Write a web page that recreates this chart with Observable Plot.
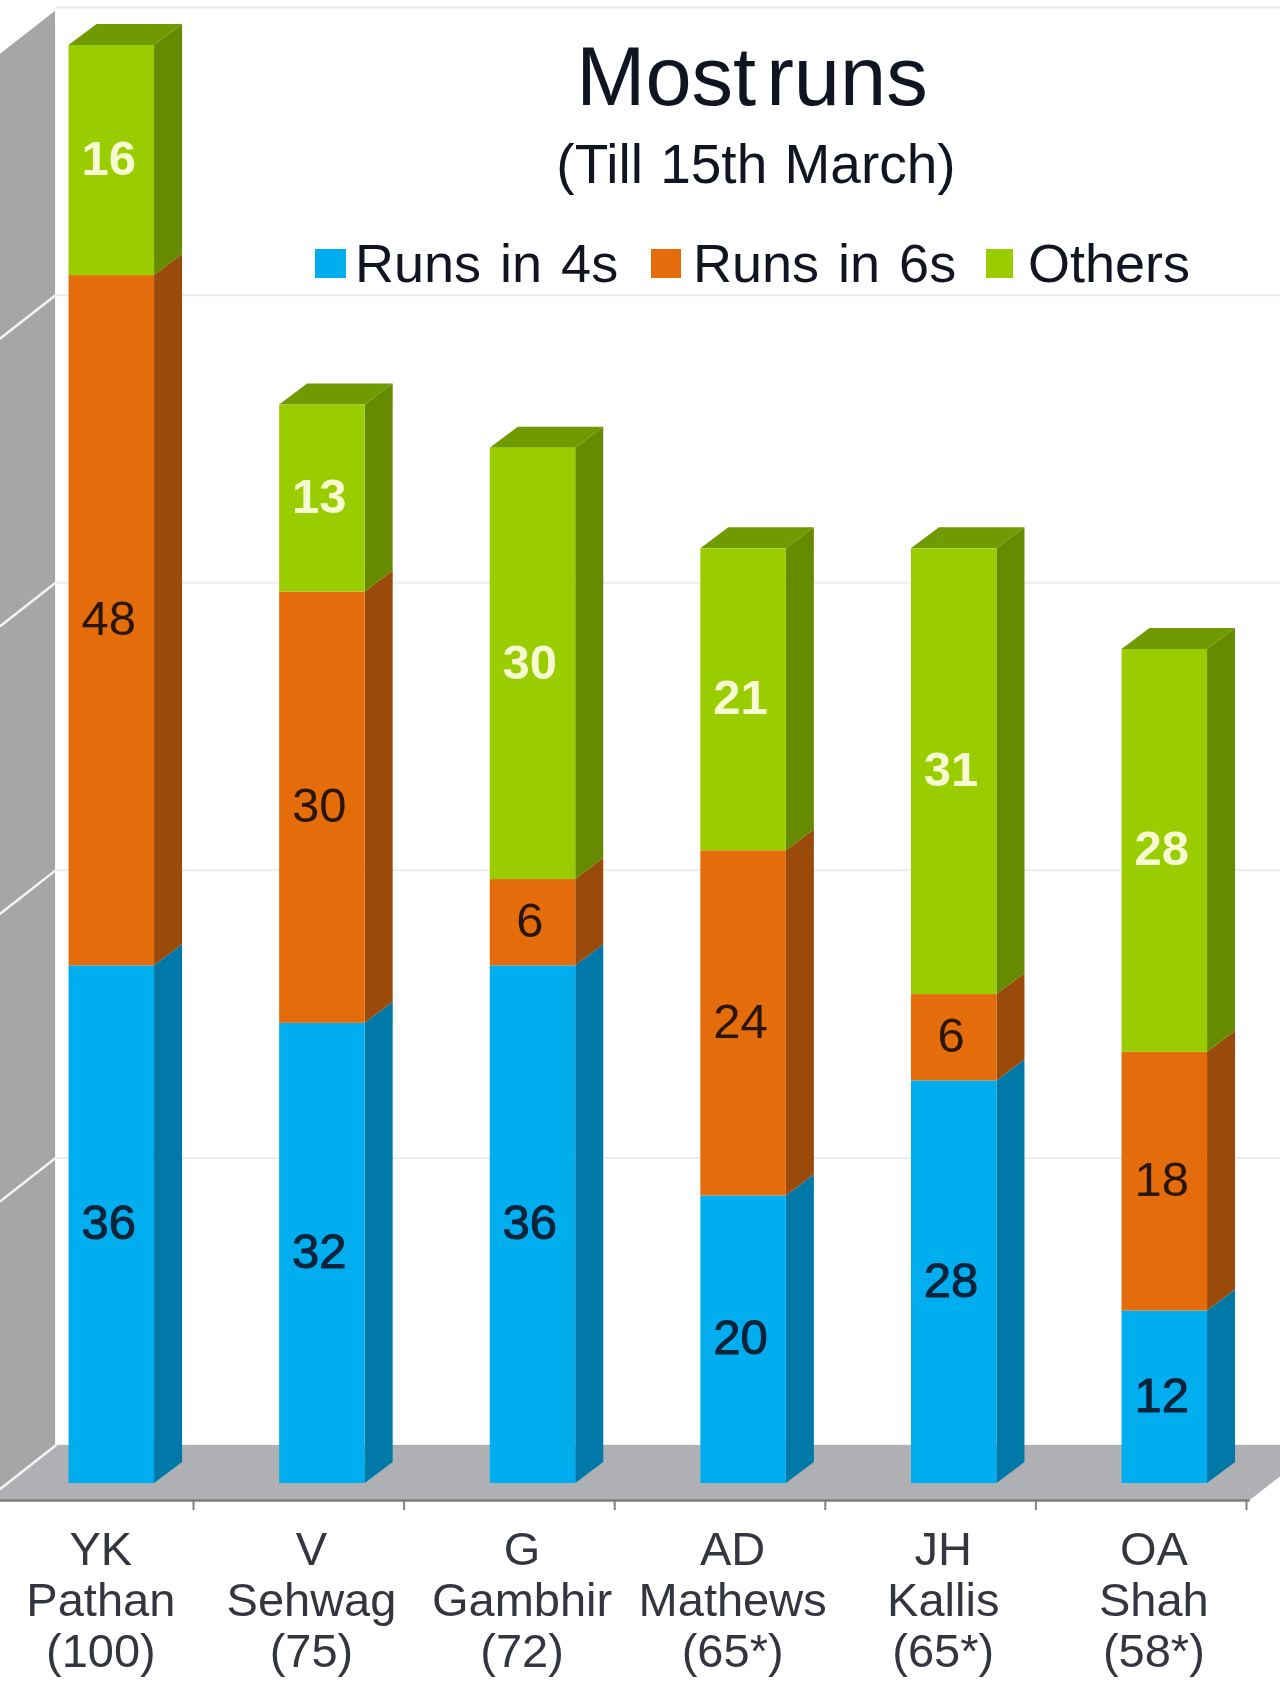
<!DOCTYPE html>
<html>
<head>
<meta charset="utf-8">
<script src="https://cdn.jsdelivr.net/npm/d3@7"></script>
<script src="https://cdn.jsdelivr.net/npm/@observablehq/plot@0.6"></script>
<style>
  html, body { margin: 0; padding: 0; background: #fff; }
  #page { position: relative; width: 1280px; height: 1681px; overflow: hidden; font-family: "Liberation Sans", Arial, sans-serif; color: #111522; filter: blur(0.6px); }
  #page svg { display: block; position: absolute; left: 0; top: 0; }
  .over { position: absolute; white-space: pre; line-height: 1; }
  .swatch { position: absolute; }
</style>
</head>
<body>
<div id="page"></div>
<script>
const players = ["YK\nPathan\n(100)", "V\nSehwag\n(75)", "G\nGambhir\n(72)", "AD\nMathews\n(65*)", "JH\nKallis\n(65*)", "OA\nShah\n(58*)"];
const seriesNames = ["Runs in 4s", "Runs in 6s", "Others"];
const runsIn4s = [36, 32, 36, 20, 28, 12];
const runsIn6s = [48, 30, 6, 24, 6, 18];
const others = [16, 13, 30, 21, 31, 28];
const gridLevels = [0, 20, 40, 60, 80, 100];

const frontColors = ["#00aeef", "#e46c0a", "#9acd00"];
const sideColors = ["#0078a8", "#9a4a0a", "#668a00"];
const topColor = "#6f9a00";
const labelColors = ["#0b2238", "#2a1608", "#f6fbd2"];
const labelWeights = [400, 400, 700];
const labelStrokes = [1, 0, 0];

// Scale set-up, in chart units (x: one unit per player, y: runs)
const xDomain = [-0.5285, 5.5494];
const yDomain = [-1.18, 103.13];
const barWidth = 0.406, depthX = 0.133, depthY = 1.46;
const floorBack = 2.64, wallBackX = -0.267, wallDrop = 3, floorFrontX = -0.6, floorFrontRight = 5.406, floorDepthX = 0.332;
const wallTop = 99.75;
const tickOffset = 0.388, labelOffset = -0.052;

const seriesValues = [runsIn4s, runsIn6s, others];
const segments = [];
players.forEach((p, i) => {
  let base = 0;
  seriesValues.forEach((vals, s) => {
    segments.push({i, s, lo: base, hi: base + vals[i], value: vals[i], isTop: s === 2});
    base += vals[i];
  });
});

const sideData = s => segments.filter(d => d.s === s).flatMap(d => [0, 1].map(t => ({
  id: d.i, x: d.i + barWidth / 2 + t * depthX, y1: d.lo + t * depthY, y2: d.hi + t * depthY
})));
const topData = segments.filter(d => d.isTop).flatMap(d => [0, 1].map(t => ({
  id: d.i, y: d.hi + t * depthY, x1: d.i - barWidth / 2 + t * depthX, x2: d.i + barWidth / 2 + t * depthX
})));
const wallData = [
  {x: xDomain[0], y1: floorBack - wallDrop, y2: floorBack + wallTop - wallDrop},
  {x: wallBackX, y1: floorBack, y2: floorBack + wallTop}
];
const wallLines = gridLevels.slice(0, -1).flatMap(v => [
  {id: v, x: xDomain[0], y: floorBack + v - wallDrop},
  {id: v, x: wallBackX, y: floorBack + v}
]);
const floorData = [
  {y: yDomain[0], x1: floorFrontX, x2: floorFrontRight},
  {y: floorBack, x1: floorFrontX + floorDepthX, x2: floorFrontRight + floorDepthX}
];

const indices = players.map((_, i) => i);

const chart = Plot.plot({
  width: 1280,
  height: 1681,
  marginTop: 0, marginLeft: 0, marginRight: 0, marginBottom: 181,
  style: {fontFamily: '"Liberation Sans", Arial, sans-serif', background: "transparent"},
  x: {type: "linear", domain: xDomain, axis: null},
  y: {type: "linear", domain: yDomain, axis: null},
  marks: [
    Plot.ruleY(gridLevels, {y: d => d + floorBack, x1: wallBackX, x2: xDomain[1], stroke: "#ececec", strokeWidth: 2}),
    Plot.areaY(wallData, {x: "x", y1: "y1", y2: "y2", fill: "#a6a6a6"}),
    Plot.areaX(floorData, {y: "y", x1: "x1", x2: "x2", fill: "#afb0b4"}),
    Plot.line(wallLines, {x: "x", y: "y", z: "id", stroke: "#f4f4f4", strokeWidth: 2.5}),
    ...seriesNames.map((_, s) => Plot.areaY(sideData(s), {x: "x", y1: "y1", y2: "y2", z: "id", fill: sideColors[s]})),
    Plot.areaX(topData, {y: "y", x1: "x1", x2: "x2", z: "id", fill: topColor}),
    ...seriesNames.map((_, s) => Plot.rect(segments.filter(d => d.s === s), {
      x1: d => d.i - barWidth / 2, x2: d => d.i + barWidth / 2, y1: "lo", y2: "hi", fill: frontColors[s]
    })),
    ...seriesNames.map((_, s) => Plot.text(segments.filter(d => d.s === s), {
      x: d => d.i - 0.015, y: d => (d.lo + d.hi) / 2, text: "value", dy: -1,
      fill: labelColors[s], fontSize: 49, fontWeight: labelWeights[s],
      stroke: labelStrokes[s] ? labelColors[s] : "none", strokeWidth: labelStrokes[s]
    })),
    Plot.ruleY([yDomain[0]], {x1: floorFrontX, x2: floorFrontRight, stroke: "#7f7f7f", strokeWidth: 2.5}),
    Plot.axisX({ticks: indices.map(i => i + tickOffset), tickSize: 10, tickFormat: () => "", stroke: "#7f7f7f", strokeWidth: 2, label: null}),
    Plot.axisX({
      ticks: indices.map(i => i + labelOffset), tickSize: 0, tickPadding: 28,
      tickFormat: (d, k) => players[k], fontSize: 47, lineHeight: 1.09, fill: "#33363f", label: null
    })
  ]
});

const page = document.getElementById("page");
page.appendChild(chart);

function overlay(text, left, baseline, size, opts = {}) {
  const el = document.createElement("div");
  el.className = "over";
  el.textContent = text;
  el.style.fontSize = size + "px";
  el.style.top = (baseline - size * 0.905 - (size - size * 1.149) / 2) + "px";
  if (opts.center) { el.style.left = left + "px"; el.style.transform = "translateX(-50%)"; }
  else el.style.left = left + "px";
  if (opts.wordSpacing != null) el.style.wordSpacing = opts.wordSpacing + "px";
  page.appendChild(el);
}
overlay("Most runs", 752, 104, 83, {center: true, wordSpacing: -13});
overlay("(Till 15th March)", 756, 183, 55, {center: true, wordSpacing: 2});

const legendSwatchX = [315, 651, 986];
const legendSwatchW = [31, 30, 27];
const legendTextX = [355, 693, 1028];
seriesNames.forEach((name, s) => {
  const sw = document.createElement("div");
  sw.className = "swatch";
  Object.assign(sw.style, {left: legendSwatchX[s] + "px", top: "249px", width: legendSwatchW[s] + "px", height: "29px", background: frontColors[s]});
  page.appendChild(sw);
  overlay(name, legendTextX[s], 281, 54, {wordSpacing: 4});
});
</script>
</body>
</html>
